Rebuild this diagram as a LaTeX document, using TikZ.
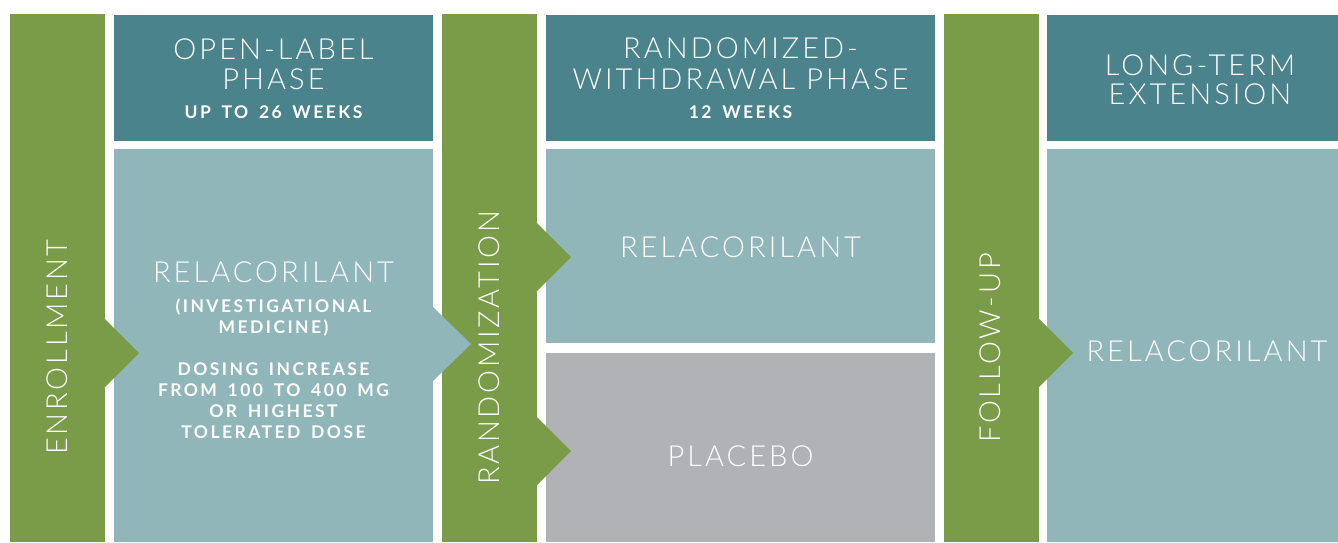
\documentclass[tikz,border=0pt]{standalone}
\usepackage{fontspec}
\setmainfont{Lato}
\IfFontExistsTF{Lato Light}{\newfontfamily\lightf[LetterSpace=10.5]{Lato Light}\newfontfamily\vlightf[LetterSpace=9.5]{Lato Light}}{\newfontfamily\lightf[LetterSpace=10.5]{Lato}\newfontfamily\vlightf[LetterSpace=9.5]{Lato}}
\newfontfamily\smallf[LetterSpace=14,WordSpace=1.6]{Lato}
\usetikzlibrary{calc}
\definecolor{grn}{RGB}{122,156,73}
\definecolor{hdr}{RGB}{75,131,140}
\definecolor{lite}{RGB}{145,182,185}
\definecolor{gry}{RGB}{177,178,182}
\tikzset{
  box/.style={rectangle, draw=none, inner sep=0pt, outer sep=0pt},
  ttl/.style={text=white, inner sep=0pt, anchor=base, font=\lightf\fontsize{29}{30}\selectfont},
  sub/.style={text=white, inner sep=0pt, anchor=base, font=\smallf\bfseries\fontsize{17.5}{20}\selectfont},
  vtl/.style={text=white, inner sep=0pt, rotate=90, font=\vlightf\fontsize{29}{30}\selectfont},
}
\begin{document}
\begin{tikzpicture}[x=1pt,y=-1pt]
\useasboundingbox (0,0) rectangle (1338,542);
\fill[white] (0,0) rectangle (1338,542);
% columns
\node[box, fill=grn, minimum width=95pt, minimum height=528pt] (bar1) at (57.5,278) {};
\node[box, fill=hdr, minimum width=319pt, minimum height=126pt] (hd1) at (273.5,78) {};
\node[box, fill=lite, minimum width=319pt, minimum height=393pt] (bx1) at (273.5,345.5) {};
\node[box, fill=grn, minimum width=95pt, minimum height=528pt] (bar2) at (489.5,278) {};
\node[box, fill=hdr, minimum width=389pt, minimum height=126pt] (hd2) at (740.5,78) {};
\node[box, fill=lite, minimum width=389pt, minimum height=194pt] (bx2) at (740.5,246) {};
\node[box, fill=gry, minimum width=389pt, minimum height=189pt] (bx3) at (740.5,447.5) {};
\node[box, fill=grn, minimum width=95pt, minimum height=528pt] (bar3) at (991.5,278) {};
\node[box, fill=hdr, minimum width=291pt, minimum height=126pt] (hd3) at (1192.5,78) {};
\node[box, fill=lite, minimum width=291pt, minimum height=393pt] (bx4) at (1192.5,345.5) {};
% chevron arrows
\coordinate (a1) at (bar1.east |- 0,353);
\fill[grn] ($(a1)+(0,-34)$) -- ($(a1)+(34,0)$) -- ($(a1)+(0,34)$) -- cycle;
\coordinate (a2) at (bx1.east |- 0,344);
\fill[lite] ($(a2)+(0,-37)$) -- ($(a2)+(38,0)$) -- ($(a2)+(0,37)$) -- cycle;
\coordinate (a3) at (bar2.east |- 0,257);
\fill[grn] ($(a3)+(0,-34)$) -- ($(a3)+(34,0)$) -- ($(a3)+(0,34)$) -- cycle;
\coordinate (a4) at (bar2.east |- 0,451);
\fill[grn] ($(a4)+(0,-34)$) -- ($(a4)+(34,0)$) -- ($(a4)+(0,34)$) -- cycle;
\coordinate (a5) at (bar3.east |- 0,353);
\fill[grn] ($(a5)+(0,-34)$) -- ($(a5)+(34,0)$) -- ($(a5)+(0,34)$) -- cycle;
% vertical labels
\node[vtl] (t-enr) at (57,347) {ENROLLMENT};
\node[vtl] (t-rnd) at (489,348) {RANDOMIZATION};
\node[vtl] (t-fu) at (990,348) {FOLLOW-UP};
% header 1
\node[ttl] (h1a) at (273.5,59) {OPEN-LABEL};
\node[ttl] (h1b) at (273.5,89) {PHASE};
\node[sub] (h1c) at (273.5,118) {UP TO 26 WEEKS};
% header 2
\node[ttl] (h2a) at (740.5,58) {RANDOMIZED-};
\node[ttl] (h2b) at (740.5,89) {WITHDRAWAL PHASE};
\node[sub] (h2c) at (740.5,118) {12 WEEKS};
% header 3
\node[ttl] (h3a) at (1200,75) {LONG-TERM};
\node[ttl] (h3b) at (1200,104) {EXTENSION};
% box 1
\node[ttl] (r1) at (273.5,282) {RELACORILANT};
\node[sub] (r1a) at (273.5,312) {(INVESTIGATIONAL};
\node[sub] (r1b) at (273.5,333) {MEDICINE)};
\node[sub] (r1c) at (273.5,375) {DOSING INCREASE};
\node[sub] (r1d) at (273.5,396) {FROM 100 TO 400 MG};
\node[sub] (r1e) at (273.5,417) {OR HIGHEST};
\node[sub] (r1f) at (273.5,438) {TOLERATED DOSE};
% box 2, 3, 4
\node[ttl] (r2) at (740.5,257) {RELACORILANT};
\node[ttl] (pl) at (740.5,466) {PLACEBO};
\node[ttl] (r4) at (1207,361) {RELACORILANT};
\end{tikzpicture}
\end{document}
